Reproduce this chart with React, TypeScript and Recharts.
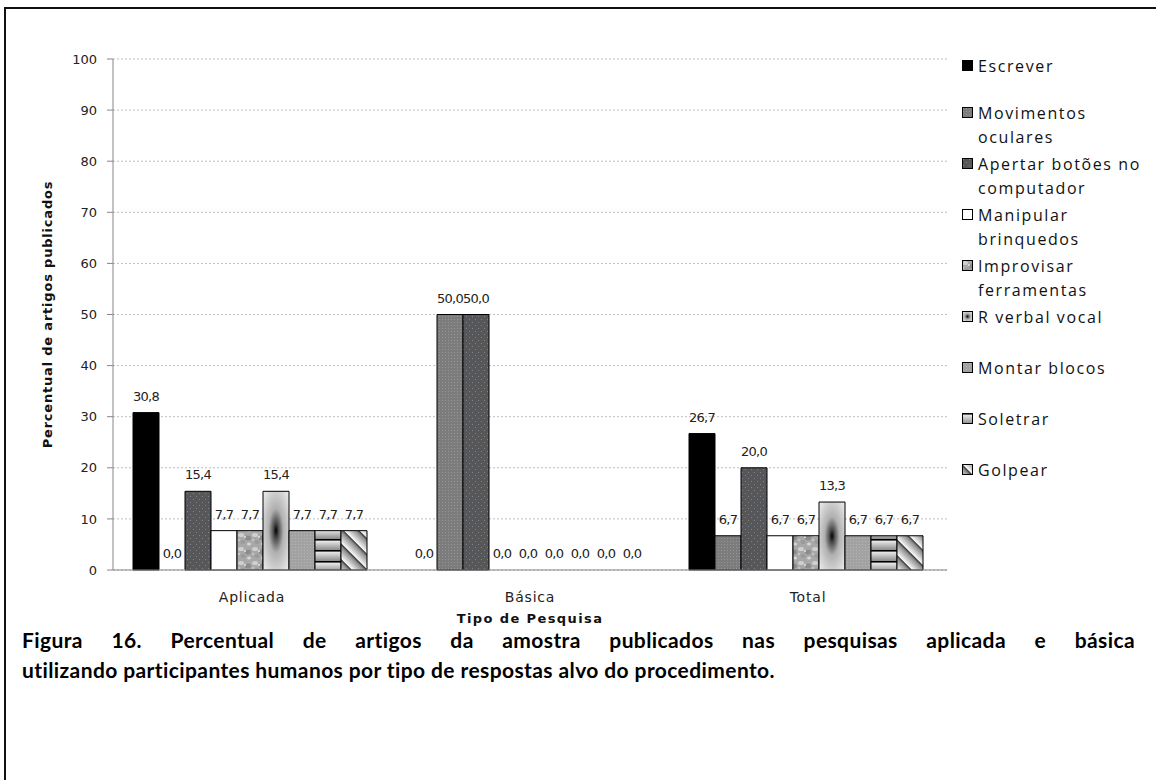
import React from 'react';
import { BarChart, Bar, XAxis, YAxis, CartesianGrid, LabelList, Legend, Rectangle } from 'recharts';

const categories = ['Aplicada', 'Básica', 'Total'];
const escrever = [30.8, 0.0, 26.7];
const movimentos = [0.0, 50.0, 6.7];
const apertar = [15.4, 50.0, 20.0];
const manipular = [7.7, 0.0, 6.7];
const improvisar = [7.7, 0.0, 6.7];
const rverbal = [15.4, 0.0, 13.3];
const montar = [7.7, 0.0, 6.7];
const soletrar = [7.7, 0.0, 6.7];
const golpear = [7.7, 0.0, 6.7];

const seriesNames = [
  'Escrever',
  'Movimentos oculares',
  'Apertar botões no computador',
  'Manipular brinquedos',
  'Improvisar ferramentas',
  'R verbal vocal',
  'Montar blocos',
  'Soletrar',
  'Golpear',
];
const legendLines = [
  ['Escrever'],
  ['Movimentos', 'oculares'],
  ['Apertar botões no', 'computador'],
  ['Manipular', 'brinquedos'],
  ['Improvisar', 'ferramentas'],
  ['R verbal vocal'],
  ['Montar blocos'],
  ['Soletrar'],
  ['Golpear'],
];
const seriesValues = [escrever, movimentos, apertar, manipular, improvisar, rverbal, montar, soletrar, golpear];
const yTicks = [0, 10, 20, 30, 40, 50, 60, 70, 80, 90, 100];
const edgeTicks = [0, 1, 2, 3];

const fills = [
  '#000000',
  'url(#pMov)',
  'url(#pApe)',
  '#ffffff',
  'url(#pImp)',
  'url(#pRv)',
  'url(#pMon)',
  'url(#pSol)',
  'url(#pGol)',
];

const data = categories.map((c, i) => {
  const row: any = { name: c };
  seriesValues.forEach((s, k) => {
    row['s' + k] = s[i];
  });
  return row;
});

const fmt = (v: any) => Number(v).toFixed(1).replace('.', ',');

const BarShape = (props: any) => {
  if (!props.height || Math.abs(props.height) < 0.5) return <g />;
  return <Rectangle {...props} />;
};

const Patterns = () => (
  <defs>
    <pattern id="pMov" width="3" height="3" patternUnits="userSpaceOnUse">
      <rect width="3" height="3" fill="#7c7c7c" />
      <rect x="1" y="1" width="1" height="1" fill="#969696" />
    </pattern>
    <pattern id="pApe" width="6" height="6" patternUnits="userSpaceOnUse">
      <rect width="6" height="6" fill="#575757" />
      <rect x="1" y="1" width="1" height="1" fill="#7d8296" />
      <rect x="4" y="4" width="1" height="1" fill="#7d8296" />
    </pattern>
    <pattern id="pImp" width="14" height="14" patternUnits="userSpaceOnUse">
      <rect width="14" height="14" fill="#a8a8a8" />
      <ellipse cx="3" cy="3" rx="3" ry="2" fill="#cfcfcf" />
      <ellipse cx="10" cy="6" rx="3" ry="2.5" fill="#8c8c8c" />
      <ellipse cx="5" cy="10" rx="2.5" ry="2" fill="#9a9a9a" />
      <ellipse cx="11" cy="12" rx="2" ry="1.5" fill="#d6d6d6" />
      <circle cx="7" cy="5" r="1" fill="#e4e4e4" />
      <circle cx="1" cy="8" r="1.2" fill="#c4c4c4" />
    </pattern>
    <radialGradient id="pRv" cx="0.5" cy="0.5" r="0.7">
      <stop offset="0%" stopColor="#000000" />
      <stop offset="14%" stopColor="#4a4a4a" />
      <stop offset="40%" stopColor="#b0b0b0" />
      <stop offset="100%" stopColor="#eeeeee" />
    </radialGradient>
    <pattern id="pMon" width="3" height="3" patternUnits="userSpaceOnUse">
      <rect width="3" height="3" fill="#a2a2a2" />
      <rect x="1" y="1" width="1" height="1" fill="#b4b4b4" />
    </pattern>
    <linearGradient id="gSol" x1="0" y1="0" x2="0" y2="1">
      <stop offset="0%" stopColor="#ffffff" />
      <stop offset="100%" stopColor="#8a8a8a" />
    </linearGradient>
    <pattern id="pSol" width="10" height="11" patternUnits="userSpaceOnUse">
      <rect width="10" height="11" fill="url(#gSol)" />
      <rect y="0" width="10" height="1.6" fill="#000" />
    </pattern>
    <linearGradient id="gGol" x1="0" y1="0" x2="1" y2="0">
      <stop offset="0%" stopColor="#ffffff" />
      <stop offset="80%" stopColor="#8a8a8a" />
      <stop offset="100%" stopColor="#222" />
    </linearGradient>
    <pattern id="pGol" width="11" height="11" patternUnits="userSpaceOnUse" patternTransform="rotate(-45)">
      <rect width="11" height="11" fill="url(#gGol)" />
    </pattern>
  </defs>
);

const LegendContent = () => (
  <div style={{ fontFamily: '"Open Sans", sans-serif', fontSize: 16, color: '#111', letterSpacing: 1.6 }}>
    {legendLines.map((lines, k) => (
      <div key={seriesNames[k]} style={{ height: k === 0 ? 47 : 51, position: 'relative' }}>
        <svg width={12} height={12} style={{ position: 'absolute', left: 0, top: 6 }}>
          <rect x={0.5} y={0.5} width={10} height={10} fill={fills[k]} stroke="#000" strokeWidth={1} />
        </svg>
        <div style={{ position: 'absolute', left: 16, top: 0, lineHeight: '24px', whiteSpace: 'nowrap' }}>
          {lines.map((l, j) => (
            <div key={j}>{l}</div>
          ))}
        </div>
      </div>
    ))}
  </div>
);

const YLabel = (props: any) => {
  const vb = props.viewBox || {};
  const cx = vb.x - 6;
  const cy = vb.y + vb.height / 2;
  return (
    <text
      x={cx}
      y={cy}
      transform={`rotate(-90, ${cx}, ${cy})`}
      textAnchor="middle"
      dominantBaseline="central"
      style={{ fontFamily: '"DejaVu Sans", sans-serif', fontSize: 13, fontWeight: 700, fill: '#111', letterSpacing: 0.8 }}
    >
      Percentual de artigos publicados
    </text>
  );
};

export default function App() {
  return (
    <div
      style={{
        position: 'absolute',
        left: 0,
        top: 0,
        width: 1156,
        height: 780,
        background: '#fff',
        overflow: 'hidden',
      }}
    >
      <div
        style={{
          position: 'absolute',
          left: 4,
          top: 7,
          width: 1300,
          height: 900,
          borderLeft: '2px solid #111',
          borderTop: '2px solid #111',
        }}
      />
      <div style={{ position: 'absolute', left: 0, top: 0 }}>
        <BarChart
          width={1156}
          height={640}
          data={data}
          margin={{ top: 59, right: 209, left: 53, bottom: 39 }}
          barCategoryGap={20}
          barGap={0}
        >
          <Patterns />
          <CartesianGrid xAxisId="z" vertical={false} stroke="#bdbdbd" strokeDasharray="2 2" />
          <XAxis
            xAxisId="a"
            type="number"
            domain={[0, 3]}
            ticks={edgeTicks}
            height={1}
            tick={false}
            axisLine={{ stroke: '#868686' }}
            tickLine={{ stroke: '#868686' }}
            tickSize={6}
          />
          <XAxis
            xAxisId="z"
            dataKey="name"
            height={30}
            tickLine={false}
            tickSize={0}
            tickMargin={21}
            axisLine={false}
            tick={{ fontFamily: '"DejaVu Sans", sans-serif', fontSize: 14, fill: '#222', letterSpacing: 0.8 }}
            label={{
              value: 'Tipo de Pesquisa',
              position: 'bottom',
              offset: 13,
              style: {
                fontFamily: '"DejaVu Sans", sans-serif',
                fontSize: 13,
                fontWeight: 700,
                fill: '#111',
                letterSpacing: 1.4,
              },
            }}
          />
          <YAxis
            width={60}
            domain={[0, 100]}
            ticks={yTicks}
            interval={0}
            axisLine={{ stroke: '#868686' }}
            tickLine={{ stroke: '#868686' }}
            tickSize={6}
            tickMargin={10}
            tick={{ fontFamily: '"DejaVu Sans", sans-serif', fontSize: 13, fill: '#222' }}
            label={{ content: YLabel }}
          />
          <Legend
            layout="vertical"
            align="center"
            verticalAlign="middle"
            wrapperStyle={{ left: 962, top: 54, width: 190 }}
            content={LegendContent}
          />
          {seriesNames.map((n, k) => (
            <Bar
              key={n}
              xAxisId="z"
              dataKey={'s' + k}
              name={n}
              fill={fills[k]}
              stroke="#000"
              strokeWidth={1}
              minPointSize={0.01}
              shape={BarShape}
              isAnimationActive={false}
            >
              <LabelList
                dataKey={'s' + k}
                position="top"
                offset={12}
                formatter={fmt}
                style={{ fontFamily: '"DejaVu Sans", sans-serif', fontSize: 13, fill: '#222', letterSpacing: -0.7 }}
              />
            </Bar>
          ))}
        </BarChart>
      </div>
      <div
        style={{
          position: 'absolute',
          left: 22,
          top: 625,
          width: 1113,
          fontFamily: 'Lato, sans-serif',
          fontWeight: 700,
          fontSize: 21,
          letterSpacing: 0.4,
          lineHeight: '30px',
          color: '#000',
        }}
      >
        <div style={{ textAlign: 'justify', textAlignLast: 'justify' }}>
          Figura 16. Percentual de artigos da amostra publicados nas pesquisas aplicada e básica
        </div>
        <div>utilizando participantes humanos por tipo de respostas alvo do procedimento.</div>
      </div>
    </div>
  );
}
